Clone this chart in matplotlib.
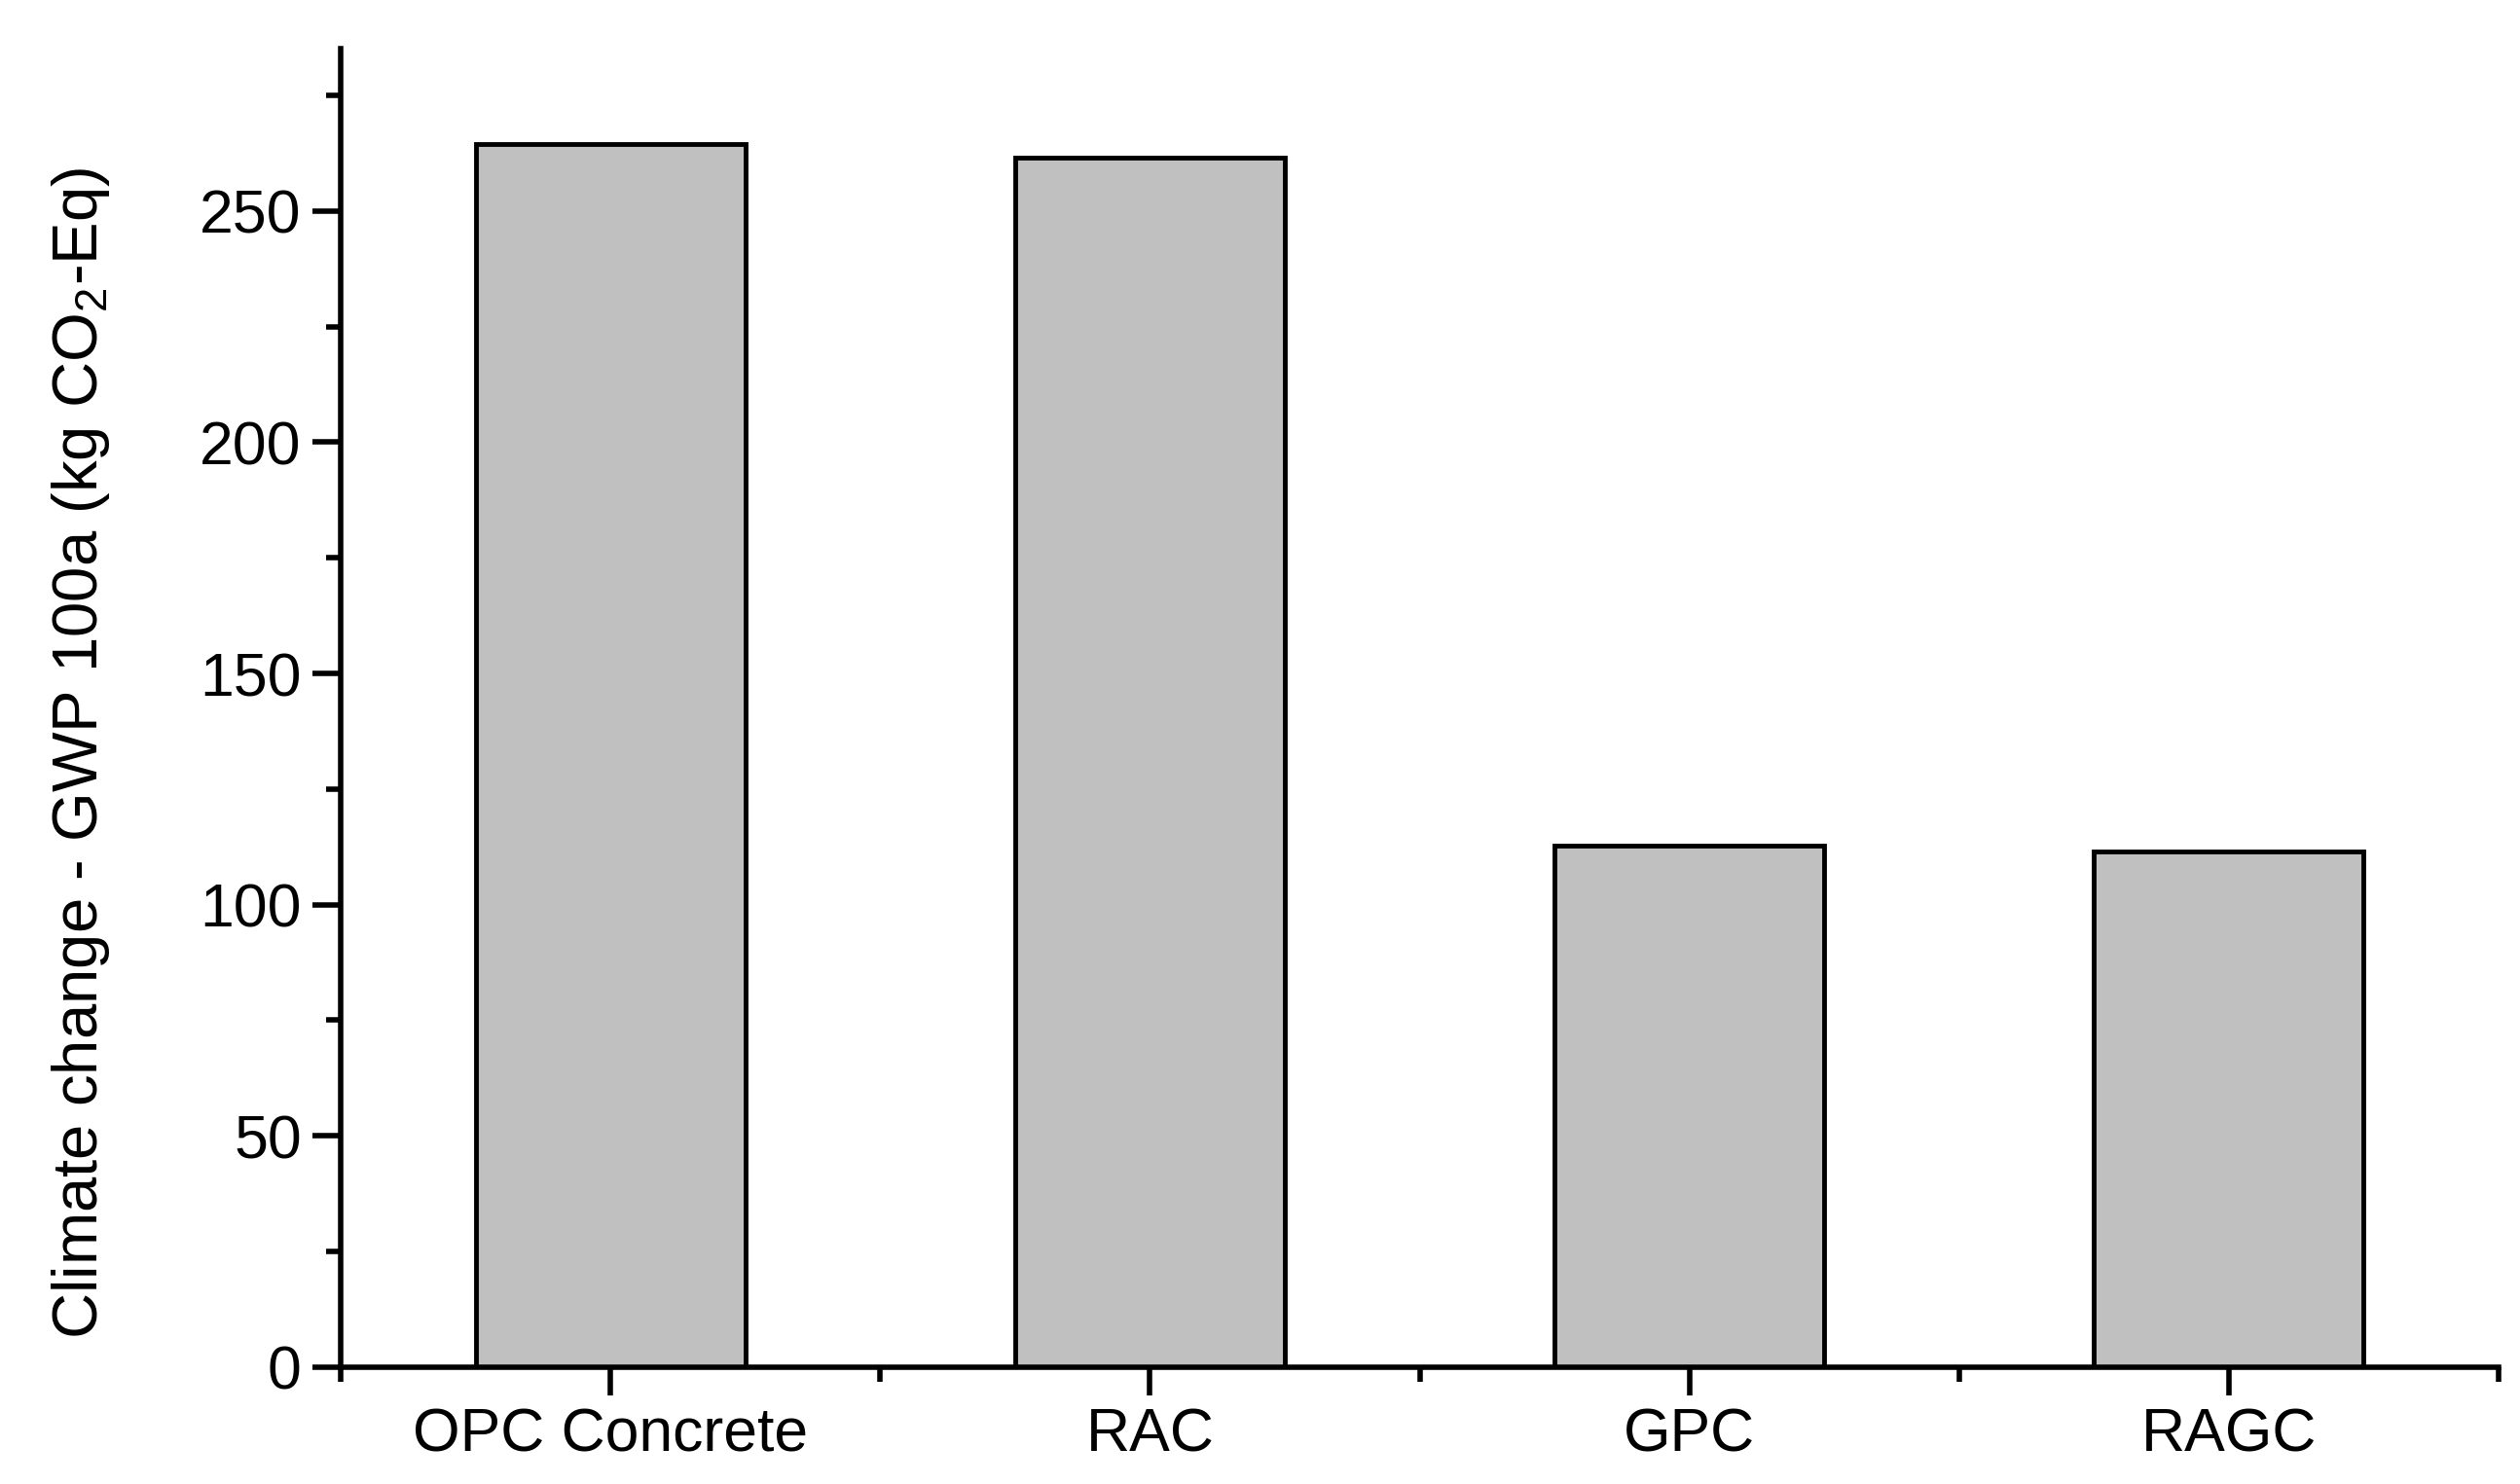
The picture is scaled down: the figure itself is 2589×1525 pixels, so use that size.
import matplotlib
matplotlib.use('Agg')
import matplotlib.pyplot as plt
from matplotlib.ticker import MultipleLocator

plt.rcParams['font.family'] = ['Liberation Sans', 'DejaVu Sans']
plt.rcParams['mathtext.fontset'] = 'custom'
plt.rcParams['mathtext.rm'] = 'Liberation Sans'

# Data
categories = ['OPC Concrete', 'RAC', 'GPC', 'RAGC']
gwp_values = [264.5, 261.5, 112.8, 111.5]

fig = plt.figure(figsize=(25.89, 15.25), dpi=100)
ax = fig.add_axes([0.1352, 0.0787, 0.8563, 0.8883])

x = list(range(1, len(categories) + 1))
ax.bar(x, gwp_values, width=0.5, color='#c0c0c0', edgecolor='black', linewidth=3.5)

ax.set_xlim(0.5, 4.5)
ax.set_ylim(0, 285)

ax.set_xticks(x)
ax.set_xticklabels(categories)
ax.set_xticks([0.5, 1.5, 2.5, 3.5, 4.5], minor=True)
ax.yaxis.set_major_locator(MultipleLocator(50))
ax.yaxis.set_minor_locator(MultipleLocator(25))

for s in ['top', 'right']:
    ax.spines[s].set_visible(False)
for s in ['left', 'bottom']:
    ax.spines[s].set_linewidth(4)

ax.tick_params(which='major', length=21, width=4, labelsize=45, pad=8)
ax.tick_params(which='minor', length=11, width=4)

ax.set_ylabel('Climate change - GWP 100a (kg CO$_2$-Eq)', fontsize=47)
ax.yaxis.set_label_coords(-0.106, 0.4657)

fig.savefig('out.png', dpi=100)
